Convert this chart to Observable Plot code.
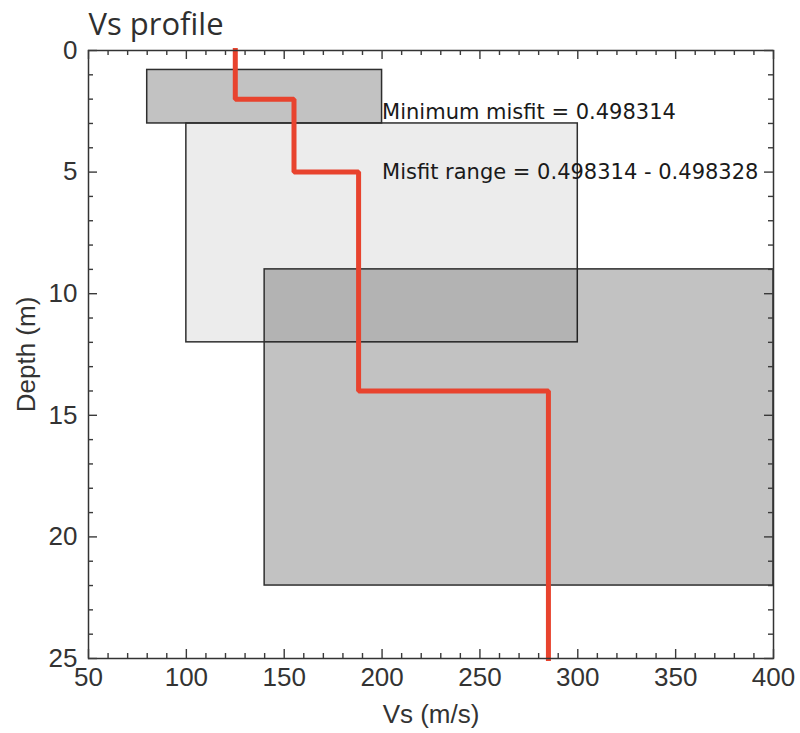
<!DOCTYPE html>
<html><head><meta charset="utf-8">
<script src="https://cdn.jsdelivr.net/npm/d3@7"></script>
<script src="https://cdn.jsdelivr.net/npm/@observablehq/plot@0.6"></script>
<style>body{margin:0;background:#fff}</style>
</head><body><div id="chart"></div>
<script>
const title = "Vs profile";
const xLabel = "Vs (m/s)";
const yLabel = "Depth (m)";
const xTicks = [50, 100, 150, 200, 250, 300, 350, 400];
const yTicks = [0, 5, 10, 15, 20, 25];
const xMinorTicks = d3.range(50, 401, 10).filter(v => v % 50 !== 0);
const yMinorTicks = d3.range(0, 26, 1).filter(v => v % 5 !== 0);

// Search-range boxes
const boxVsMin = [80, 100, 140];
const boxVsMax = [200, 300, 400];
const boxDepthTop = [0.8, 3, 9];
const boxDepthBottom = [3, 12, 22];
const boxShade = [0.24, 0.075, 0.24];

// Best Vs profile (layer tops and velocities)
const layerTopDepth = [0, 2, 5, 14];
const layerVs = [125, 155, 188, 285];
const maxDepth = 25;

// Annotations
const notes = ["Minimum misfit = 0.498314", "Misfit range = 0.498314 - 0.498328"];
const noteVs = [200, 200];
const noteDepth = [2.55, 5.02];

const boxes = boxVsMin.map((v, i) => ({x1: v, x2: boxVsMax[i], y1: boxDepthTop[i], y2: boxDepthBottom[i], op: boxShade[i]}));
const profile = layerVs.map((v, i) => ({vs: v, depth: layerTopDepth[i]}));
profile.push({vs: layerVs[layerVs.length - 1], depth: maxDepth});
const noteData = notes.map((t, i) => ({t, x: noteVs[i], y: noteDepth[i]}));

const W = 800, H = 733, mT = 50, mB = 75, mL = 88, mR = 27;
const innerW = W - mL - mR, innerH = H - mT - mB;
const tickColor = "#3a3a3a";
const sans = "'Liberation Sans', Arial, sans-serif";

const chart = Plot.plot({
  width: W, height: H,
  marginTop: mT, marginBottom: mB, marginLeft: mL, marginRight: mR,
  style: {fontFamily: sans, color: "#333", background: "#fff"},
  x: {domain: [50, 400], axis: null},
  y: {domain: [0, 25], reverse: true, axis: null},
  marks: [
    Plot.rect(boxes, {x1: "x1", x2: "x2", y1: "y1", y2: "y2", fill: "black", fillOpacity: d => d.op, stroke: "#2e2e2e", strokeWidth: 1.5}),
    Plot.line(profile, {x: "vs", y: "depth", curve: "step-before", stroke: "#e8432e", strokeWidth: 5, strokeLinecap: "square", strokeLinejoin: "miter", clip: false}),
    Plot.text(noteData, {x: "x", y: "y", text: "t", textAnchor: "start", lineAnchor: "middle", fontSize: 21, fontFamily: "'DejaVu Sans'", fill: "#1a1a1a", style: "letter-spacing:1.5px"}),
    // frame
    Plot.frame({stroke: "#333", strokeWidth: 1.5}),
    // inward ticks: bottom / top
    Plot.ruleX(xTicks, {x: d => d, insetTop: innerH - 9, stroke: tickColor, strokeWidth: 1.4}),
    Plot.ruleX(xTicks, {x: d => d, insetBottom: innerH - 9, stroke: tickColor, strokeWidth: 1.4}),
    Plot.ruleX(xMinorTicks, {x: d => d, insetTop: innerH - 5, stroke: tickColor, strokeWidth: 1.4}),
    Plot.ruleX(xMinorTicks, {x: d => d, insetBottom: innerH - 5, stroke: tickColor, strokeWidth: 1.4}),
    // inward ticks: left / right
    Plot.ruleY(yTicks, {y: d => d, insetRight: innerW - 9, stroke: tickColor, strokeWidth: 1.4}),
    Plot.ruleY(yTicks, {y: d => d, insetLeft: innerW - 9, stroke: tickColor, strokeWidth: 1.4}),
    Plot.ruleY(yMinorTicks, {y: d => d, insetRight: innerW - 5, stroke: tickColor, strokeWidth: 1.4}),
    Plot.ruleY(yMinorTicks, {y: d => d, insetLeft: innerW - 5, stroke: tickColor, strokeWidth: 1.4}),
    // tick labels
    Plot.axisX(xTicks, {anchor: "bottom", tickSize: 0, tickPadding: 9, fontSize: 26, fontFamily: sans, label: null, fill: "#333"}),
    Plot.axisY(yTicks, {anchor: "left", tickSize: 0, tickPadding: 11, fontSize: 26, fontFamily: sans, label: null, fill: "#333"}),
    // axis labels
    Plot.text([xLabel], {frameAnchor: "bottom", dy: 46, textAnchor: "middle", lineAnchor: "top", fontSize: 26, fontFamily: sans, fill: "#333"}),
    Plot.text([yLabel], {frameAnchor: "left", dx: -62, rotate: -90, textAnchor: "middle", lineAnchor: "middle", fontSize: 26, fontFamily: sans, fill: "#333"}),
    // title
    Plot.text([title], {frameAnchor: "top-left", dy: -25, textAnchor: "start", lineAnchor: "middle", fontSize: 31, fontFamily: "'Open Sans'", fill: "#2f2f2f"})
  ]
});
document.getElementById("chart").appendChild(chart);
</script>
</body></html>
